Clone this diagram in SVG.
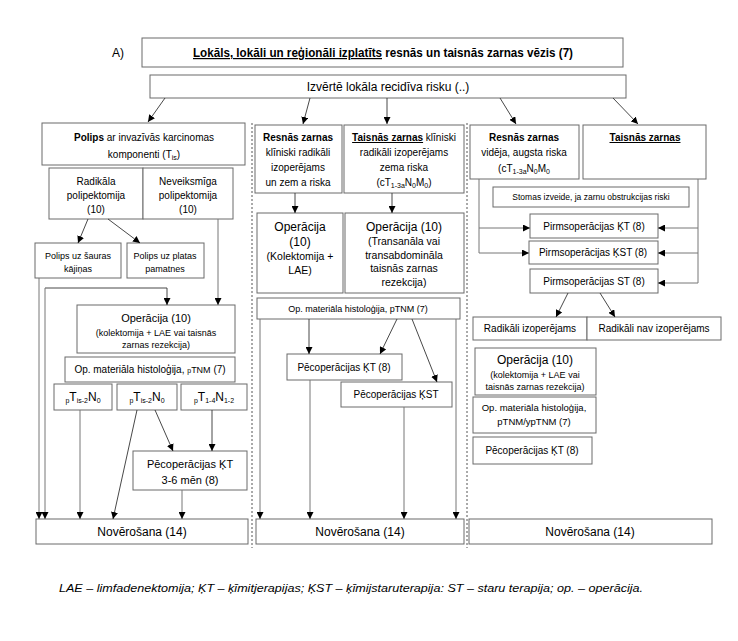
<svg xmlns="http://www.w3.org/2000/svg" width="738" height="641" viewBox="0 0 738 641">
<defs>
<marker id="ah" viewBox="0 0 10 10" refX="10" refY="5" markerWidth="7" markerHeight="7" markerUnits="userSpaceOnUse" orient="auto"><path d="M0,0 L10,5 L0,10 z" fill="#000"/></marker>
</defs>
<style>
text{font-family:"Liberation Sans",Arial,sans-serif;fill:#000;text-anchor:middle}
.b{fill:#fff;stroke:#6a6a6a;stroke-width:1}
.c{fill:none;stroke:#333;stroke-width:0.9}
.g{fill:none;stroke:#777;stroke-width:1}
.a{marker-end:url(#ah)}
.sep{stroke:#555;stroke-width:1;stroke-dasharray:2,2}
.s8{font-size:8.5px}
.s9{font-size:9px}
.s95{font-size:9.5px}
.s10{font-size:10px}
.s105{font-size:10.5px}
.s11{font-size:11px}
.s12{font-size:12px}
.bo{font-weight:bold}
.u{text-decoration:underline}
.sub{font-size:7px}
.it{font-style:italic}
</style>
<rect width="738" height="641" fill="#fff"/>

<g id="separators">
<line class="sep" x1="252" y1="123" x2="252" y2="548"/>
<line class="sep" x1="467" y1="123" x2="467" y2="548"/>
</g>

<g id="label-A"><text x="118" y="57" class="s12" style="text-anchor:middle">A)</text></g>

<g id="title">
<rect class="b" x="142" y="38" width="481" height="29"/>
<text x="383" y="57" class="s12 bo" textLength="380" lengthAdjust="spacingAndGlyphs"><tspan class="u">Lokāls, lokāli un reģionāli izplatīts</tspan> resnās un taisnās zarnas vēzis (7)</text>
</g>

<g id="assess">
<rect class="b" x="150" y="75" width="476" height="23"/>
<text x="388" y="91" class="s12">Izvērtē lokāla recidīva risku (..)</text>
</g>

<!-- left column -->
<g id="polips">
<rect class="b" x="42" y="123" width="203" height="42"/>
<text x="144" y="141" class="s10"><tspan class="bo">Polips</tspan> ar invazīvās karcinomas</text>
<text x="144" y="158" class="s10">komponenti (T<tspan class="sub" dy="2">is</tspan><tspan dy="-2">)</tspan></text>
</g>
<g id="radikala">
<rect class="b" x="49" y="168" width="94" height="51"/>
<text x="96" y="185" class="s10">Radikāla</text>
<text x="96" y="199" class="s10">polipektomija</text>
<text x="96" y="213" class="s10">(10)</text>
</g>
<g id="neveiksmiga">
<rect class="b" x="143" y="168" width="90" height="51"/>
<text x="188" y="185" class="s10">Neveiksmīga</text>
<text x="188" y="199" class="s10">polipektomija</text>
<text x="188" y="213" class="s10">(10)</text>
</g>
<g id="sauras">
<rect class="b" x="35" y="243" width="86" height="35"/>
<text x="78" y="259" class="s9">Polips uz šauras</text>
<text x="78" y="272" class="s9">kājiņas</text>
</g>
<g id="platas">
<rect class="b" x="127" y="243" width="77" height="35"/>
<text x="165" y="259" class="s9">Polips uz platas</text>
<text x="165" y="272" class="s9">pamatnes</text>
</g>
<g id="oper-left">
<rect class="b" x="77" y="305" width="158" height="48"/>
<text x="156" y="322" class="s11">Operācija (10)</text>
<text x="156" y="336" class="s9">(kolektomija + LAE vai taisnās</text>
<text x="156" y="348" class="s9">zarnas rezekcija)</text>
</g>
<g id="hist-left">
<rect class="b" x="65" y="357" width="170" height="25"/>
<text x="150" y="373" class="s10">Op. materiāla histoloģija, <tspan style="font-size:7px">p</tspan><tspan style="font-size:9px">TNM</tspan> (7)</text>
</g>
<g id="pt1">
<rect class="b" x="54" y="384" width="58" height="26"/>
<text x="83" y="401" style="font-size:12px"><tspan class="sub" dy="2">p</tspan><tspan dy="-2">T</tspan><tspan class="sub" dy="2">is-2</tspan><tspan dy="-2">N</tspan><tspan class="sub" dy="2">0</tspan></text>
</g>
<g id="pt2">
<rect class="b" x="117" y="384" width="60" height="26"/>
<text x="147" y="401" style="font-size:12px"><tspan class="sub" dy="2">p</tspan><tspan dy="-2">T</tspan><tspan class="sub" dy="2">is-2</tspan><tspan dy="-2">N</tspan><tspan class="sub" dy="2">0</tspan></text>
</g>
<g id="pt3">
<rect class="b" x="181" y="384" width="66" height="26"/>
<text x="214" y="401" style="font-size:12px"><tspan class="sub" dy="2">p</tspan><tspan dy="-2">T</tspan><tspan class="sub" dy="2">1-4</tspan><tspan dy="-2">N</tspan><tspan class="sub" dy="2">1-2</tspan></text>
</g>
<g id="pec-left">
<rect class="b" x="133" y="451" width="114" height="39"/>
<text x="190" y="468" class="s11">Pēcoperācijas ĶT</text>
<text x="190" y="484" class="s11">3-6 mēn (8)</text>
</g>
<g id="nov-left">
<rect class="b" x="36" y="519" width="212" height="25"/>
<text x="142" y="536" class="s12">Novērošana (14)</text>
</g>

<!-- middle column -->
<g id="resnas-mid">
<rect class="b" x="255" y="125" width="87" height="68"/>
<text x="298" y="141" class="s10 bo">Resnās zarnas</text>
<text x="298" y="156" class="s10">klīniski radikāli</text>
<text x="298" y="171" class="s10">izoperējams</text>
<text x="298" y="186" class="s10">un zem a riska</text>
</g>
<g id="taisnas-mid">
<rect class="b" x="344" y="125" width="120" height="68"/>
<text x="404" y="141" class="s10"><tspan class="bo u">Taisnās zarnas</tspan> klīniski</text>
<text x="404" y="156" class="s10">radikāli izoperējams</text>
<text x="404" y="171" class="s10">zema riska</text>
<text x="404" y="186" class="s10">(cT<tspan class="sub" dy="2">1-3a</tspan><tspan dy="-2">N</tspan><tspan class="sub" dy="2">0</tspan><tspan dy="-2">M</tspan><tspan class="sub" dy="2">0</tspan><tspan dy="-2">)</tspan></text>
</g>
<g id="oper-mid1">
<rect class="b" x="257" y="213" width="86" height="80"/>
<text x="300" y="231" class="s12">Operācija</text>
<text x="300" y="246" class="s12">(10)</text>
<text x="300" y="260" class="s105">(Kolektomija +</text>
<text x="300" y="274" class="s105">LAE)</text>
</g>
<g id="oper-mid2">
<rect class="b" x="345" y="213" width="119" height="80"/>
<text x="404" y="231" class="s12">Operācija (10)</text>
<text x="404" y="245" class="s105">(Transanāla vai</text>
<text x="404" y="259" class="s105">transabdomināla</text>
<text x="404" y="272" class="s105">taisnās zarnas</text>
<text x="404" y="286" class="s105">rezekcija)</text>
</g>
<g id="hist-mid">
<rect class="b" x="257" y="298" width="203" height="21"/>
<text x="358" y="312" class="s9">Op. materiāla histoloģija, pTNM (7)</text>
</g>
<g id="pec-mid1">
<rect class="b" x="287" y="354" width="115" height="26"/>
<text x="344" y="371" class="s10">Pēcoperācijas ĶT (8)</text>
</g>
<g id="pec-mid2">
<rect class="b" x="341" y="382" width="111" height="25"/>
<text x="396" y="398" class="s10">Pēcoperācijas ĶST</text>
</g>
<g id="nov-mid">
<rect class="b" x="256" y="519" width="208" height="25"/>
<text x="360" y="536" class="s12">Novērošana (14)</text>
</g>

<!-- right column -->
<g id="resnas-right">
<rect class="b" x="470" y="125" width="109" height="54"/>
<text x="524" y="141" class="s10 bo">Resnās zarnas</text>
<text x="524" y="156" class="s10">vidēja, augsta riska</text>
<text x="524" y="172" class="s10">(cT<tspan class="sub" dy="2">1-3a</tspan><tspan dy="-2">N</tspan><tspan class="sub" dy="2">0</tspan><tspan dy="-2">M</tspan><tspan class="sub" dy="2">0</tspan></text>
</g>
<g id="taisnas-right">
<rect class="b" x="583" y="125" width="123" height="54"/>
<text x="645" y="141" class="s10 bo u">Taisnās zarnas</text>
</g>
<g id="stomas">
<rect class="b" x="493" y="187" width="196" height="20"/>
<text x="591" y="200" class="s8">Stomas izveide, ja zarnu obstrukcijas riski</text>
</g>
<g id="pirms-kt">
<rect class="b" x="530" y="214" width="128" height="24"/>
<text x="594" y="230" class="s10">Pirmsoperācijas ĶT (8)</text>
</g>
<g id="pirms-kst">
<rect class="b" x="529" y="241" width="129" height="23"/>
<text x="593" y="256" class="s10">Pirmsoperācijas ĶST (8)</text>
</g>
<g id="pirms-st">
<rect class="b" x="530" y="269" width="128" height="24"/>
<text x="594" y="285" class="s10">Pirmsoperācijas ST (8)</text>
</g>
<g id="rad-iz">
<rect class="b" x="473" y="317" width="114" height="23"/>
<text x="530" y="332" class="s10">Radikāli izoperējams</text>
</g>
<g id="rad-nav">
<rect class="b" x="587" y="317" width="134" height="23"/>
<text x="654" y="332" class="s10">Radikāli nav izoperējams</text>
</g>
<g id="oper-right">
<rect class="b" x="475" y="348" width="121" height="47"/>
<text x="535" y="364" class="s12">Operācija (10)</text>
<text x="535" y="378" class="s9">(kolektomija + LAE vai</text>
<text x="535" y="390" class="s9">taisnās zarnas rezekcija)</text>
</g>
<g id="hist-right">
<rect class="b" x="473" y="397" width="123" height="36"/>
<text x="534" y="411" class="s95">Op. materiāla histoloģija,</text>
<text x="534" y="425" class="s95">pTNM/ypTNM (7)</text>
</g>
<g id="pec-right">
<rect class="b" x="473" y="437" width="119" height="27"/>
<text x="532" y="454" class="s10">Pēcoperācijas ĶT (8)</text>
</g>
<g id="nov-right">
<rect class="b" x="469" y="519" width="243" height="25"/>
<text x="590" y="536" class="s12">Novērošana (14)</text>
</g>

<g id="connectors">
<line class="c a" x1="165" y1="98" x2="148" y2="122"/>
<line class="c a" x1="310" y1="98" x2="303" y2="124"/>
<line class="c a" x1="387" y1="98" x2="387" y2="124"/>
<line class="c a" x1="500" y1="98" x2="516" y2="124"/>
<line class="c a" x1="613" y1="98" x2="638" y2="124"/>

<line class="c a" x1="88" y1="219" x2="78" y2="243"/>
<line class="c a" x1="108" y1="219" x2="140" y2="243"/>
<line class="g a" x1="218" y1="219" x2="218" y2="305"/>
<path class="c a" d="M45,288 H167 V305"/>
<line class="g a" x1="45" y1="288" x2="45" y2="519"/>
<line class="g a" x1="39" y1="278" x2="39" y2="519"/>
<line class="g a" x1="80" y1="410" x2="80" y2="519"/>
<line class="c a" x1="137" y1="410" x2="113" y2="519"/>
<line class="c a" x1="155" y1="410" x2="173" y2="451"/>
<line class="c a" x1="212" y1="410" x2="212" y2="451"/>
<line class="g a" x1="182" y1="490" x2="182" y2="519"/>

<line class="c a" x1="295" y1="193" x2="295" y2="213"/>
<line class="c a" x1="392" y1="193" x2="392" y2="213"/>
<line class="g a" x1="260" y1="319" x2="260" y2="519"/>
<line class="g a" x1="456" y1="319" x2="456" y2="519"/>
<line class="c a" x1="309" y1="319" x2="309" y2="354"/>
<line class="c a" x1="397" y1="319" x2="380" y2="354"/>
<line class="c a" x1="412" y1="319" x2="437" y2="382"/>
<line class="g a" x1="310" y1="380" x2="310" y2="519"/>
<line class="g a" x1="404" y1="407" x2="404" y2="519"/>

<path class="g a" d="M479,179 V253 H529"/>
<path class="g a" d="M479,228 H530"/>
<path class="g a" d="M698,179 V283 H658"/>
<path class="g a" d="M698,228 H658"/>
<path class="g a" d="M698,253 H658"/>
<line class="c a" x1="568" y1="293" x2="556" y2="317"/>
<line class="c a" x1="600" y1="293" x2="615" y2="317"/>
</g>

<g id="footer">
<text x="351" y="592" class="s11 it" textLength="584" lengthAdjust="spacingAndGlyphs">LAE – limfadenektomija; ĶT – ķīmitjerapijas; ĶST – ķīmijstaruterapija: ST – staru terapija; op. – operācija.</text>
</g>
</svg>
